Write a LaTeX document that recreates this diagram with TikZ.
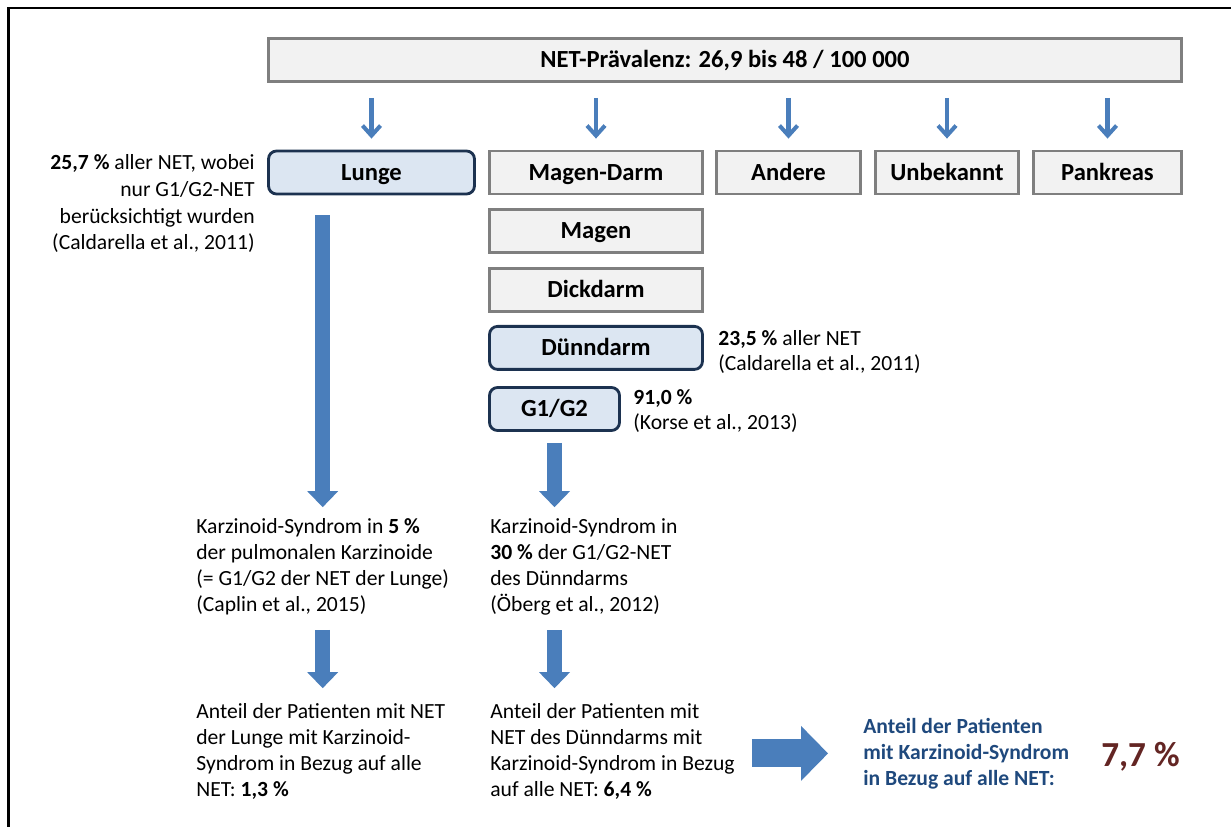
\documentclass[tikz,border=0pt]{standalone}
\usepackage{fontspec}
\setmainfont{Carlito}
\usetikzlibrary{arrows.meta}
\definecolor{boxgray}{HTML}{F2F2F2}
\definecolor{linegray}{HTML}{7F7F7F}
\definecolor{boxblue}{HTML}{DCE6F2}
\definecolor{lineblue}{HTML}{1C3250}
\definecolor{arrowblue}{HTML}{4A7EBB}
\definecolor{textblue}{HTML}{1F497D}
\definecolor{darkred}{HTML}{632523}

\begin{document}
\begin{tikzpicture}[x=0.02cm,y=-0.02cm,
  graybox/.style={rectangle,draw=linegray,fill=boxgray,line width=1.6pt,minimum height=0.86cm,inner sep=0pt,text height=1.0em,text depth=0.14em,font=\fontsize{14}{16}\selectfont\bfseries},
  bluebox/.style={graybox,draw=lineblue,fill=boxblue,rounded corners=0.16cm},
  notetext/.style={inner sep=0pt,font=\fontsize{12.3}{14.7}\selectfont},
  thinarrow/.style={draw=arrowblue,line width=2.3pt,-{Straight Barb[length=0.2cm,width=0.36cm]},shorten <=0.3cm,shorten >=0.22cm},
  fatarrow/.style={draw=arrowblue,line width=0.3cm,-{Triangle[length=0.32cm,width=0.62cm,line width=0pt]}}]
\useasboundingbox (0,0) rectangle (1231,827);
\draw [line width=1.4pt] (8.5,827) -- (8.5,8) -- (1231,8);

\node [graybox,minimum width=18.26cm] (praevalenz) at (725,60) {NET-Prävalenz: 26,9 bis 48 / 100 000};
\node [bluebox,minimum width=4.12cm] (lunge) at (371.5,172.5) {Lunge};
\node [graybox,minimum width=4.26cm] (magendarm) at (596,172.5) {Magen-Darm};
\node [graybox,minimum width=2.88cm] (andere) at (788.5,172.5) {Andere};
\node [graybox,minimum width=2.86cm] (unbekannt) at (947,172.5) {Unbekannt};
\node [graybox,minimum width=2.96cm] (pankreas) at (1107.5,172.5) {Pankreas};
\node [graybox,minimum width=4.26cm,below=0.26cm,at=(magendarm.south)] (magen) {Magen};
\node [graybox,minimum width=4.26cm,below=0.26cm,at=(magen.south)] (dickdarm) {Dickdarm};
\node [bluebox,minimum width=4.26cm,below=0.24cm,at=(dickdarm.south)] (duenndarm) {Dünndarm};
\node [bluebox,minimum width=2.6cm] (g1g2) at (554.5,409) {G1/G2};

\node [notetext,anchor=base east,align=right,font=\fontsize{12.3}{15.3}\selectfont] (lungetext) at (255,250) {\textbf{25,7 \%} aller NET, wobei\\nur G1/G2-NET\\berücksichtigt wurden\\(Caldarella et al., 2011)};
\node [notetext,anchor=base west,align=left] (duenntext) at (718,371) {\textbf{23,5 \%} aller NET\\(Caldarella et al., 2011)};
\node [notetext,anchor=base west,align=left] (g1g2text) at (633,430) {\textbf{91,0 \%}\\(Korse et al., 2013)};
\node [notetext,anchor=base west,align=left] (kslunge) at (196,611) {Karzinoid-Syndrom in \textbf{5 \%}\\der pulmonalen Karzinoide\\(= G1/G2 der NET der Lunge)\\(Caplin et al., 2015)};
\node [notetext,anchor=base west,align=left] (ksduenn) at (490,611) {Karzinoid-Syndrom in\\\textbf{30 \%} der G1/G2-NET\\des Dünndarms\\(Öberg et al., 2012)};
\node [notetext,anchor=base west,align=left] (anteillunge) at (196,796) {Anteil der Patienten mit NET\\der Lunge mit Karzinoid-\\Syndrom in Bezug auf alle\\NET: \textbf{1,3 \%}};
\node [notetext,anchor=base west,align=left] (anteilduenn) at (490,796) {Anteil der Patienten mit\\NET des Dünndarms mit\\Karzinoid-Syndrom in Bezug\\auf alle NET: \textbf{6,4 \%}};
\node [notetext,anchor=base west,align=left,text=textblue,font=\fontsize{12.3}{14.7}\selectfont\bfseries] (anteilalle) at (863,785) {Anteil der Patienten\\mit Karzinoid-Syndrom\\in Bezug auf alle NET:};
\node [inner sep=0pt,anchor=base west,text=darkred,font=\fontsize{20}{24}\selectfont\bfseries] (gesamt) at (1101,766) {7,7 \%};

\foreach \organ in {lunge,magendarm,andere,unbekannt,pankreas}
  \draw [thinarrow] (praevalenz.south -| \organ.north) -- (\organ.north);
\draw [fatarrow,shorten <=0.4cm,shorten >=0.22cm] (lunge.south -| kslunge.north) -- (kslunge.north);
\draw [fatarrow,shorten <=0.22cm,shorten >=0.22cm] (g1g2.south) -- (g1g2.south |- ksduenn.north);
\draw [fatarrow,shorten <=0.3cm,shorten >=0.3cm] (kslunge.south) -- (kslunge.south |- anteillunge.north);
\draw [fatarrow,shorten <=0.3cm,shorten >=0.3cm] (ksduenn.south -| g1g2.south) -- (g1g2.south |- anteilduenn.north);
\draw [draw=arrowblue,line width=0.56cm,-{Triangle[length=0.54cm,width=1.1cm,line width=0pt]},shorten <=0.34cm,shorten >=0.7cm] (anteilduenn.east |- anteilalle.west) -- (anteilalle.west);
\end{tikzpicture}
\end{document}
